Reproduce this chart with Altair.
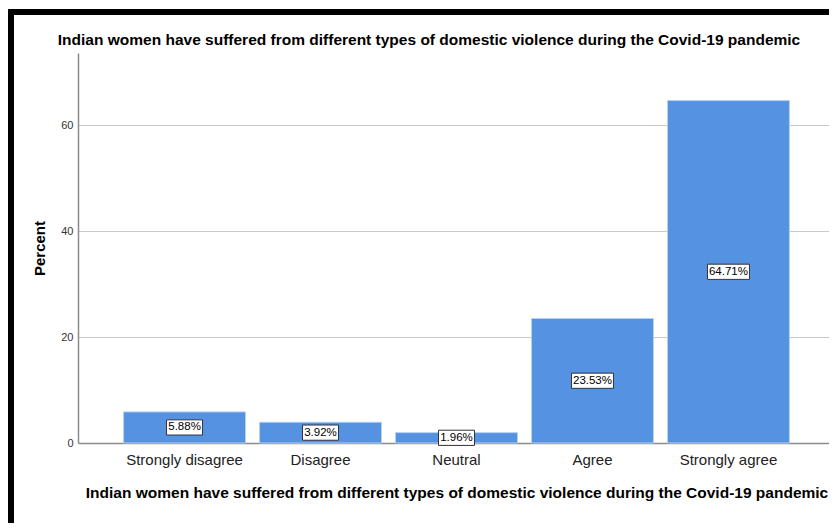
import altair as alt
import pandas as pd

categories = ["Strongly disagree", "Disagree", "Neutral", "Agree", "Strongly agree"]
percents = [5.88, 3.92, 1.96, 23.53, 64.71]
labels = ["5.88%", "3.92%", "1.96%", "23.53%", "64.71%"]
y_ticks = [0, 20, 40, 60]
title_text = "Indian women have suffered from different types of domestic violence during the Covid-19 pandemic"

df = pd.DataFrame({"cat": categories, "pct": percents, "label": labels})

FONT = "Liberation Sans"
BAR = "#5593e2"

x_enc = alt.X(
    "cat:N",
    sort=categories,
    scale=alt.Scale(range=[0, 757], paddingInner=0.103, paddingOuter=0.335),
    axis=alt.Axis(
        title=title_text,
        titleFont=FONT, titleFontSize=15.5, titleFontWeight="bold", titleColor="#000",
        titleY=54, titleBaseline="alphabetic",
        labelFont=FONT, labelFontSize=15, labelColor="#222", labelPadding=9,
        labelAngle=0, ticks=False, domainColor="#8c8c8c", domainWidth=1.5,
        grid=False,
    ),
)

y_scale = alt.Scale(domain=[0, 73.7], nice=False, zero=True)

bars = alt.Chart(df).mark_bar(color=BAR, stroke="#b5d0f2", strokeWidth=1).encode(
    x=x_enc,
    y=alt.Y(
        "pct:Q",
        scale=y_scale,
        axis=alt.Axis(
            title="Percent", values=y_ticks,
            titleFont=FONT, titleFontSize=15, titleFontWeight="bold", titleColor="#000",
            titleAngle=270, titleX=-39, titleY=195, titleAlign="center", titleBaseline="middle",
            labelFont=FONT, labelFontSize=11, labelColor="#333", labelPadding=5,
            ticks=False, domainColor="#8c8c8c", domainWidth=1.5,
            grid=True, gridColor="#c8c8c8", gridWidth=1,
        ),
    ),
)

base = alt.Chart(df).transform_calculate(
    mid="datum.pct / 2",
    boxkind="length(datum.label) > 5 ? 'long' : 'short'",
)

box_short = "M-0.9,-0.38H0.9V0.38H-0.9Z"
box_long = "M-1.05,-0.38H1.05V0.38H-1.05Z"

boxes = base.mark_point(
    filled=True, fill="white", stroke="#333", strokeWidth=1, opacity=1, size=40 * 40,
).encode(
    x=alt.X("cat:N", sort=categories),
    y=alt.Y("mid:Q", scale=y_scale),
    shape=alt.Shape("boxkind:N", scale=alt.Scale(domain=["short", "long"], range=[box_short, box_long]), legend=None),
)

texts = base.mark_text(font=FONT, fontSize=11.5, color="#000", baseline="middle", align="center").encode(
    x=alt.X("cat:N", sort=categories),
    y=alt.Y("mid:Q", scale=y_scale),
    text="label:N",
)

title_mark = alt.Chart(pd.DataFrame({"t": [title_text]})).mark_text(
    font=FONT, fontSize=15.5, fontWeight="bold", color="#000", align="center", baseline="alphabetic"
).encode(
    x=alt.value(351), y=alt.value(-8), text="t:N"
)

border_top = alt.Chart(df).mark_rule(color="#000", strokeWidth=6, strokeCap="butt").encode(
    x=alt.value(-70), x2=alt.value(760), y=alt.value(-41)
)
border_left = alt.Chart(df).mark_rule(color="#000", strokeWidth=6, strokeCap="butt").encode(
    x=alt.value(-67), y=alt.value(-44), y2=alt.value(480)
)

chart = alt.layer(bars, boxes, texts, title_mark, border_top, border_left).properties(
    width=751,
    height=390,
    padding={"left": 70, "top": 45, "right": 0, "bottom": 80},
    autosize=alt.AutoSizeParams(type="none"),
    background="white",
).configure_view(stroke=None)

chart.save("out.html", embed_options={"renderer": "svg", "actions": False})
